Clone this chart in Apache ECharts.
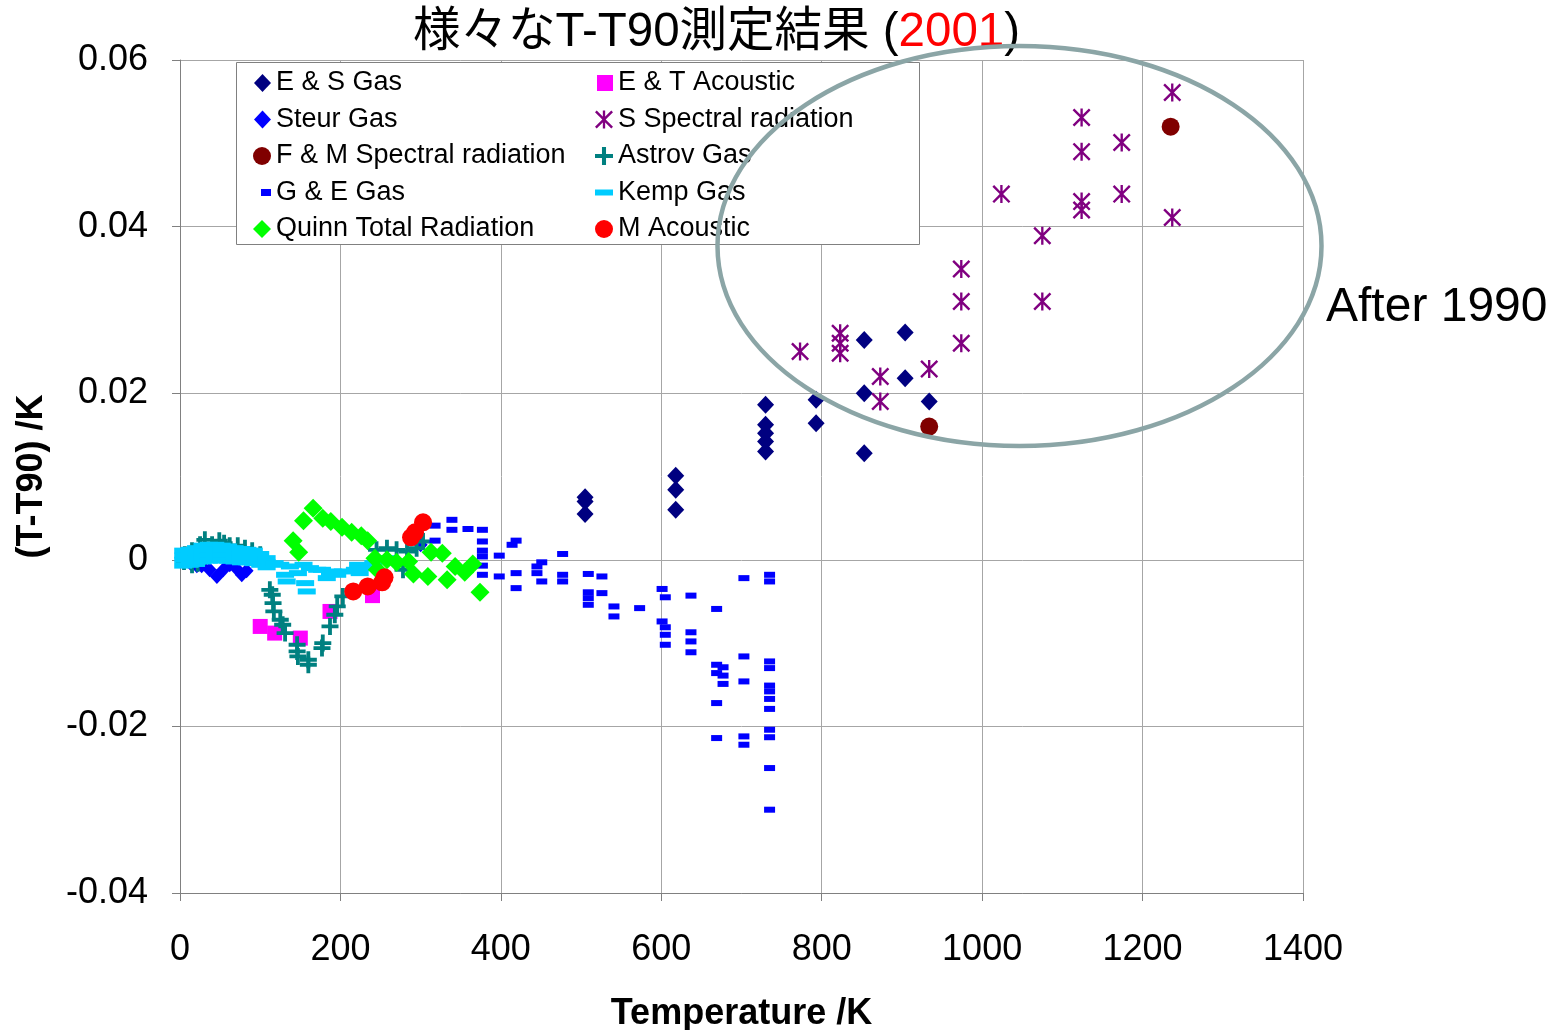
<!DOCTYPE html>
<html>
<head>
<meta charset="utf-8">
<script src="https://cdn.jsdelivr.net/npm/echarts@6/dist/echarts.min.js"></script>
<style>html,body{margin:0;padding:0;background:#fff;}#c{width:1562px;height:1030px;}</style>
</head>
<body>
<div id="c"></div>
<script>
// ---- data (temperature K, T-T90 K) ----
const esT = [505,505,505,618,618,618,730,730,730,730,730,793,793,853,853,853,904,904,934];
const esV = [0.0075,0.0070,0.0055,0.0101,0.0084,0.0060,0.0186,0.0162,0.0152,0.0142,0.0130,0.0192,0.0164,0.0264,0.0200,0.0128,0.0273,0.0218,0.0190];

const etT = [100,118,150,187,240];
const etV = [-0.0080,-0.0088,-0.0094,-0.0062,-0.0043];

const stT = [13,21,27,37,46,54,62,70,77,83,300];
const stV = [-0.0004,-0.0007,-0.0007,-0.0012,-0.0020,-0.0012,-0.0006,-0.0010,-0.0018,-0.0013,0.0018];

const ssT = [773,823,823,823,873,873,934,974,974,974,1024,1075,1075,1124,1124,1124,1124,1174,1174,1237,1237];
const ssV = [0.0250,0.0272,0.0260,0.0248,0.0220,0.0190,0.0229,0.0349,0.0310,0.0260,0.0439,0.0389,0.0310,0.0531,0.0490,0.0430,0.0420,0.0501,0.0439,0.0561,0.0411];

const fmT = [934,1235];
const fmV = [0.0160,0.0520];

const asT = [5,6,15,15,22,25,31,40,49,55,62,72,81,90,100,106,112,115,116,117,125,128,131,146,146,147,160,160,177,178,187,193,196,203,245,258,270,278,283,295,303];
const asV = [-0.0002,0.0006,0.0011,-0.0006,-0.0004,0.0018,0.0024,0.0018,0.0023,0.0020,0.0017,0.0017,0.0014,0.0011,0.0006,-0.0001,-0.0036,-0.0042,-0.0052,-0.0062,-0.0072,-0.0078,-0.0088,-0.0102,-0.0110,-0.0116,-0.0120,-0.0126,-0.0106,-0.0100,-0.0080,-0.0066,-0.0056,-0.0044,0.0012,0.0014,0.0012,-0.0012,0.0010,0.0014,0.0022];

const geT = [318,318,339,339,359,377,377,377,377,377,377,398,398,414,419,419,419,445,445,451,451,477,477,477,509,509,509,509,526,526,541,541,573,601,601,605,605,605,605,637,637,637,637,669,669,669,669,669,677,677,677,703,703,703,703,703,735,735,735,735,735,735,735,735,735,735,735,735];
const geV = [0.0041,0.0023,0.0048,0.0036,0.0037,0.0036,0.0022,0.0011,0.0004,-0.0007,-0.0018,0.0005,-0.0020,0.0018,0.0023,-0.0016,-0.0034,-0.0008,-0.0016,-0.0003,-0.0026,0.0007,-0.0018,-0.0026,-0.0017,-0.0039,-0.0046,-0.0054,-0.0020,-0.0040,-0.0056,-0.0068,-0.0058,-0.0035,-0.0074,-0.0045,-0.0081,-0.0090,-0.0102,-0.0043,-0.0087,-0.0098,-0.0111,-0.0059,-0.0126,-0.0136,-0.0172,-0.0214,-0.0129,-0.0139,-0.0149,-0.0022,-0.0116,-0.0146,-0.0212,-0.0222,-0.0018,-0.0026,-0.0122,-0.0130,-0.0151,-0.0158,-0.0167,-0.0179,-0.0204,-0.0213,-0.0250,-0.0300];

const kmT = [4,4,4,4,12,12,12,12,20,20,20,20,28,28,28,28,36,36,36,36,44,44,44,44,52,52,52,52,60,60,60,60,68,68,68,68,76,76,76,76,84,84,84,84,92,92,92,92,100,100,100,108,108,108,
  118,125,131,133,137,147,154,156,158,162,171,177,183,187,191,196,203,218,222,224,231,241,249,259];
const kmV = [0.0011,0.0005,0.0000,-0.0007,0.0012,0.0006,0.0001,-0.0006,0.0014,0.0008,0.0002,-0.0005,0.0017,0.0010,0.0004,-0.0002,0.0018,0.0011,0.0005,-0.0001,0.0018,0.0012,0.0006,0.0000,0.0017,0.0011,0.0005,-0.0001,0.0016,0.0010,0.0005,-0.0001,0.0014,0.0009,0.0004,-0.0002,0.0013,0.0008,0.0003,-0.0003,0.0012,0.0007,0.0002,-0.0003,0.0011,0.0006,0.0001,-0.0004,0.0007,0.0001,-0.0006,0.0002,-0.0003,-0.0009,
  -0.0004,-0.0006,-0.0018,-0.0026,-0.0008,-0.0016,-0.0006,-0.0028,-0.0038,-0.0010,-0.0012,-0.0012,-0.0022,-0.0016,-0.0014,-0.0018,-0.0014,-0.0012,-0.0006,-0.0016,-0.0010,-0.0004,0.0000,0.0002];

const quT = [154,166,178,188,202,214,226,234,141,148,243,246,258,270,285,291,309,313,327,333,343,355,365,374];
const quV = [0.0047,0.0062,0.0050,0.0046,0.0039,0.0033,0.0029,0.0023,0.0023,0.0009,0.0002,-0.0012,0.0000,-0.0003,-0.0002,-0.0017,-0.0020,0.0009,0.0008,-0.0024,-0.0008,-0.0015,-0.0005,-0.0039];

const maT = [216,234,252,255,288,293,303];
const maV = [-0.0038,-0.0032,-0.0027,-0.0021,0.0027,0.0033,0.0045];

const xTicks = [0,200,400,600,800,1000,1200,1400];
const yTicks = [-0.04,-0.02,0,0.02,0.04,0.06];

// ---- build ----
const pairs = (a,b) => a.map((t,i) => [t,b[i]]);
const FONT = '"Liberation Sans", Arial, "Noto Sans CJK JP", sans-serif';
const ASTER = 'path://M8.7 0H11.3V20H8.7Z M1.9 0L10 8.1L18.1 0L20 1.9L11.9 10L20 18.1L18.1 20L10 11.9L1.9 20L0 18.1L8.1 10L0 1.9Z';
const PLUS = 'path://M6.2 0H9.8V16H6.2Z M0 6.2H16V9.8H0Z';

const seriesDefs = [
  {name:'E & S Gas', d:pairs(esT,esV), sym:'diamond', size:[17,18], color:'#000080'},
  {name:'E & T Acoustic', d:pairs(etT,etV), sym:'rect', size:[15,15], color:'#FF00FF'},
  {name:'Steur Gas', d:pairs(stT,stV), sym:'diamond', size:[14,15], color:'#0000FF'},
  {name:'S Spectral radiation', d:pairs(ssT,ssV), sym:ASTER, size:[18,18], color:'#800080'},
  {name:'F & M Spectral radiation', d:pairs(fmT,fmV), sym:'circle', size:18, color:'#800000'},
  {name:'Astrov Gas', d:pairs(asT,asV), sym:PLUS, size:[17,17], color:'#008080'},
  {name:'G & E Gas', d:pairs(geT,geV), sym:'rect', size:[11,6], color:'#0000FF'},
  {name:'Kemp Gas', d:pairs(kmT,kmV), sym:'rect', size:[18,6], color:'#00CCFF'},
  {name:'Quinn Total Radiation', d:pairs(quT,quV), sym:'diamond', size:[19,19], color:'#00FF00'},
  {name:'M Acoustic', d:pairs(maT,maV), sym:'circle', size:18, color:'#FF0000'}
];

const series = seriesDefs.map(s => ({
  type:'scatter', name:s.name, data:s.d, symbol:s.sym, symbolSize:s.size,
  itemStyle:{color:s.color, opacity:1}, emphasis:{disabled:true}, z:2
}));

// legend layout: [name, col, row, icon, w, h]
const legendItems = [
  ['E & S Gas',0,0,'diamond',17,18],
  ['Steur Gas',0,1,'diamond',17,18],
  ['F & M Spectral radiation',0,2,'circle',18,18],
  ['G & E Gas',0,3,'rect',10,7],
  ['Quinn Total Radiation',0,4,'diamond',18,18],
  ['E & T Acoustic',1,0,'rect',16,16],
  ['S Spectral radiation',1,1,ASTER,18,18],
  ['Astrov Gas',1,2,PLUS,18,18],
  ['Kemp Gas',1,3,'rect',18,6],
  ['M Acoustic',1,4,'circle',18,18]
];
const rowY = [83,119.5,156,192.5,229];
const textX = [276,618];
const legends = legendItems.map(it => ({
  data:[it[0]], icon:it[3], itemWidth:it[4], itemHeight:it[5],
  left: textX[it[1]] - 5 - it[4], top: rowY[it[2]] - 15, padding:0,
  orient:'vertical', selectedMode:false, z:5,
  textStyle:{fontSize:27, fontFamily:FONT, color:'#000', lineHeight:30}
}));

const chart = echarts.init(document.getElementById('c'), null, {renderer:'canvas'});
chart.setOption({
  animation:false,
  backgroundColor:'#fff',
  title:{
    text:'{a|様々なT-T90測定結果 (}{r|2001}{a|)}',
    left:413, top:9, padding:0,
    textStyle:{fontWeight:'normal', rich:{
      a:{fontSize:47.5, fontWeight:'normal', fontFamily:FONT, color:'#000'},
      r:{fontSize:47.5, fontWeight:'normal', fontFamily:FONT, color:'#FF0000'}
    }}
  },
  grid:{left:180, right:259, top:60, bottom:137, containLabel:false, outerBoundsMode:'none'},
  xAxis:{
    type:'value', min:xTicks[0], max:xTicks[xTicks.length-1], interval:200,
    name:'Temperature /K', nameLocation:'middle', nameGap:103,
    nameTextStyle:{fontSize:36, fontWeight:'bold', fontFamily:FONT, color:'#000'},
    axisLine:{show:true, onZero:false, lineStyle:{color:'#808080', width:1}},
    axisTick:{show:true, length:8, lineStyle:{color:'#808080'}},
    axisLabel:{fontSize:36, fontFamily:FONT, color:'#000', margin:39,
      formatter: v => String(v)},
    splitLine:{show:true, lineStyle:{color:'#a6a6a6', width:1}}
  },
  yAxis:{
    type:'value', min:yTicks[0], max:yTicks[yTicks.length-1], interval:0.02,
    name:'(T-T90) /K', nameLocation:'middle', nameGap:130,
    nameTextStyle:{fontSize:36, fontWeight:'bold', fontFamily:FONT, color:'#000'},
    axisLine:{show:true, onZero:false, lineStyle:{color:'#808080', width:1}},
    axisTick:{show:true, length:8, lineStyle:{color:'#808080'}},
    axisLabel:{fontSize:36, fontFamily:FONT, color:'#000', margin:32, padding:[4,0,0,0],
      formatter: v => String(Math.round(v*100)/100)},
    splitLine:{show:true, lineStyle:{color:'#a6a6a6', width:1}}
  },
  legend:legends,
  graphic:[
    {type:'rect', z:4, shape:{x:236.5, y:62.5, width:683, height:182},
     style:{fill:'#fff', stroke:'#808080', lineWidth:1}},
    {type:'ellipse', z:10, shape:{cx:1019.5, cy:246, rx:302, ry:200},
     style:{fill:null, stroke:'#8BA5A6', lineWidth:4.5}},
    {type:'text', z:10, left:1326, top:284,
     style:{text:'After 1990', font:'48px "Liberation Sans", Arial, sans-serif', fill:'#000'}}
  ],
  series:series
});
</script>
</body>
</html>
